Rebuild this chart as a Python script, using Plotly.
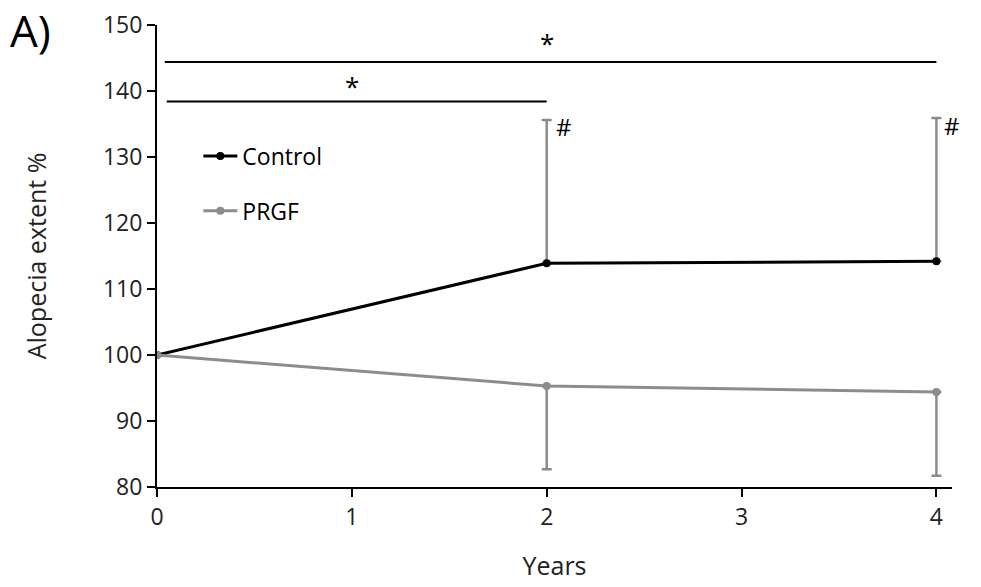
import plotly.graph_objects as go

years = [0, 2, 4]
control = [100, 113.9, 114.2]
control_err_plus = [0, 21.7, 21.7]
prgf = [100, 95.3, 94.4]
prgf_err_minus = [0, 12.6, 12.7]

sig_lines = [(0.04, 4, 144.4), (0.05, 2, 138.4)]
sig_stars = [(2, 147.3, "*"), (1, 140.8, "*")]
hash_marks = [(2.09, 134.6, "#"), (4.08, 134.8, "#")]

FONT = "Open Sans"
fig = go.Figure()

fig.add_trace(go.Scatter(
    x=years, y=control, mode="lines+markers", name="Control",
    line=dict(color="black", width=3), marker=dict(size=8, color="black"),
    error_y=dict(type="data", symmetric=False, array=control_err_plus,
                 arrayminus=[0, 0, 0], color="#8c8c8c", thickness=2.5, width=5),
    legendgroup="a",
))
fig.add_trace(go.Scatter(
    x=years, y=prgf, mode="lines+markers", name="PRGF",
    line=dict(color="#8c8c8c", width=3), marker=dict(size=8, color="#8c8c8c"),
    error_y=dict(type="data", symmetric=False, array=[0, 0, 0],
                 arrayminus=prgf_err_minus, color="#8c8c8c", thickness=2.5, width=5),
    legendgroup="b",
))

for x0, x1, y in sig_lines:
    fig.add_shape(type="line", x0=x0, x1=x1, y0=y, y1=y, xref="x", yref="y",
                  line=dict(color="black", width=2))
for x, y, t in sig_stars:
    fig.add_annotation(x=x, y=y, text=t, showarrow=False, xref="x", yref="y",
                       font=dict(size=26, color="black", family=FONT))
for x, y, t in hash_marks:
    fig.add_annotation(x=x, y=y, text=t, showarrow=False, xref="x", yref="y",
                       font=dict(size=24, color="black", family=FONT))

fig.add_annotation(text="A)", xref="paper", yref="paper", x=-0.188, y=1.058,
                   xanchor="left", yanchor="top", showarrow=False,
                   font=dict(size=44, color="black", family=FONT))

fig.update_layout(
    width=981, height=587,
    margin=dict(l=157, r=29, t=25, b=100, autoexpand=False),
    paper_bgcolor="white", plot_bgcolor="white",
    font=dict(family=FONT, size=23, color="#222"),
    showlegend=True,
    legend=dict(x=0.052, y=0.763, xanchor="left", yanchor="top",
                bgcolor="rgba(0,0,0,0)", font=dict(size=23, color="black"),
                tracegroupgap=22, traceorder="grouped", itemwidth=34),
    xaxis=dict(range=[0, 4.08], tickvals=[0, 1, 2, 3, 4], showgrid=False,
               zeroline=False, showline=True, linecolor="black", linewidth=2,
               ticks="outside", ticklen=8, tickwidth=2, tickcolor="black",
               title=dict(text="Years", font=dict(size=25), standoff=27)),
    yaxis=dict(range=[80, 150], tickvals=[80, 90, 100, 110, 120, 130, 140, 150],
               showgrid=False, zeroline=False, showline=True, linecolor="black",
               linewidth=2, ticks="outside", ticklen=8, tickwidth=2, tickcolor="black",
               title=dict(text="Alopecia extent %", font=dict(size=25), standoff=49)),
)

fig.write_html("out.html")
